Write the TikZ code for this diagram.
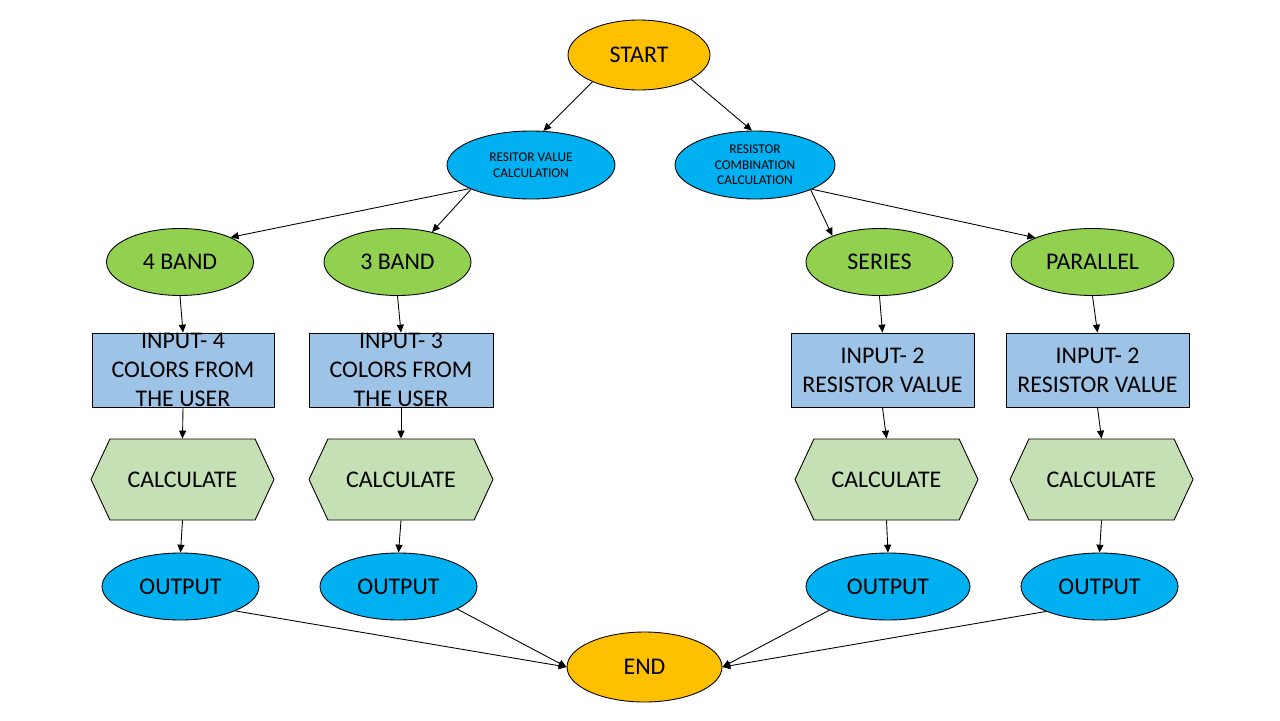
\documentclass[tikz,border=0pt]{standalone}
\usepackage{fontspec}
\setmainfont{Carlito}
\usepackage{xcolor}
\usetikzlibrary{shapes.geometric,shapes.symbols,arrows.meta}

\definecolor{termorange}{HTML}{FFC000}
\definecolor{skyblue}{HTML}{00B0F0}
\definecolor{leafgreen}{HTML}{92D050}
\definecolor{inputblue}{HTML}{9DC3E6}
\definecolor{calcgreen}{HTML}{C5E0B4}

\tikzset{
  base/.style = {draw = black, line width = 0.5pt, inner sep = 0pt, align = center,
                 font = \fontsize{13.6}{16.5}\selectfont},
  terminal/.style = {base, ellipse, fill = termorange, minimum width = 2.84cm, minimum height = 1.4cm},
  branch/.style = {base, ellipse, fill = skyblue, minimum width = 3.36cm, minimum height = 1.36cm,
                   font = \fontsize{7.6}{8.8}\selectfont},
  kind/.style = {base, ellipse, fill = leafgreen, minimum width = 2.94cm, minimum height = 1.34cm},
  inbox/.style = {base, rectangle, fill = inputblue, minimum width = 3.66cm, minimum height = 1.48cm},
  intext/.style = {align = center, inner sep = 0pt, font = \fontsize{13.6}{16.5}\selectfont},
  calc/.style = {base, signal, signal to = west and east, signal pointer angle = 130,
                 fill = calcgreen, minimum width = 3.66cm, minimum height = 1.62cm},
  outnode/.style = {base, ellipse, fill = skyblue, minimum width = 3.14cm, minimum height = 1.34cm},
  link/.style = {-{Triangle[length = 4.5pt, width = 4pt]}, line width = 0.5pt}
}

\begin{document}
\begin{tikzpicture}[x = 0.02cm, y = -0.02cm]
  \useasboundingbox (0, 0) rectangle (1280, 720);

  % top
  \node[terminal] (start) at (639, 55) {START};
  \node[branch] (valueCalc) at (531, 165) {RESITOR VALUE\\CALCULATION};
  \node[branch, minimum width = 3.2cm] (comboCalc) at (755, 165) {RESISTOR\\COMBINATION\\CALCULATION};

  % kinds
  \node[kind] (band4) at (180, 262) {4 BAND};
  \node[kind] (band3) at (397.5, 262) {3 BAND};
  \node[kind] (series) at (879.5, 262) {SERIES};
  \node[kind, minimum width = 3.26cm] (parallel) at (1092.5, 262) {PARALLEL};

  % inputs
  \node[inbox, minimum width = 3.64cm, label = {[intext]center:INPUT- 4\\COLORS FROM\\THE USER}] (in4) at (183, 370) {};
  \node[inbox, minimum width = 3.68cm, label = {[intext]center:INPUT- 3\\COLORS FROM\\THE USER}] (in3) at (401, 370) {};
  \node[inbox] (inS) at (882.5, 370) {INPUT- 2\\RESISTOR VALUE};
  \node[inbox] (inP) at (1097.5, 370) {INPUT- 2\\RESISTOR VALUE};

  % calculate
  \node[calc] (calc4) at (182.5, 479.5) {CALCULATE};
  \node[calc, minimum width = 3.68cm] (calc3) at (401, 479.5) {CALCULATE};
  \node[calc] (calcS) at (886.5, 479.5) {CALCULATE};
  \node[calc] (calcP) at (1101.5, 479.5) {CALCULATE};

  % outputs
  \node[outnode] (out4) at (180.5, 586.5) {OUTPUT};
  \node[outnode] (out3) at (398.5, 586.5) {OUTPUT};
  \node[outnode, minimum width = 3.28cm] (outS) at (888, 586.5) {OUTPUT};
  \node[outnode] (outP) at (1099.5, 586.5) {OUTPUT};

  \node[terminal, minimum width = 3.1cm] (end) at (644.5, 667) {END};

  % links
  \draw[link] (start.-150) -- (valueCalc.70);
  \draw[link] (start.-25) -- (comboCalc.95);
  \draw[link] (valueCalc.-159) -- (band4.26);
  \draw[link] (valueCalc.-158) -- (band3.41);
  \draw[link] (comboCalc.-24) -- (series.151);
  \draw[link] (comboCalc.-23) -- (parallel.157);

  \draw[link] (band4.south) -- (in4.north);
  \draw[link] (band3.south) -- (in3.north);
  \draw[link] (series.south) -- (inS.north);
  \draw[link] (parallel.south) -- (inP.north);

  \draw[link] (in4.south) -- (calc4.north);
  \draw[link] (in3.south) -- (calc3.north);
  \draw[link] (inS.south) -- (calcS.north);
  \draw[link] (inP.south) -- (calcP.north);

  \draw[link] (calc4.south) -- (out4.north);
  \draw[link] (calc3.south) -- (out3.north);
  \draw[link] (calcS.south) -- (outS.north);
  \draw[link] (calcP.south) -- (outP.north);

  \draw[link] (out4.-24) -- (end.west);
  \draw[link] (out3.-21) -- (end.west);
  \draw[link] (outS.-158) -- (end.east);
  \draw[link] (outP.-155) -- (end.east);
\end{tikzpicture}
\end{document}
